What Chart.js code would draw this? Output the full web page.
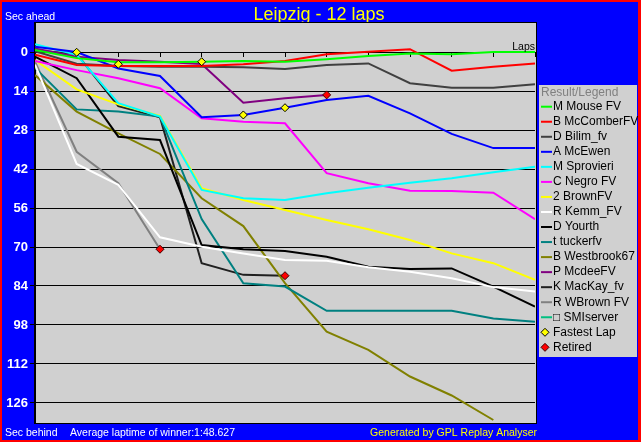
<!DOCTYPE html>
<html>
<head>
<meta charset="utf-8">
<title>Leipzig - 12 laps</title>
<script src="https://cdn.jsdelivr.net/npm/chart.js@4"></script>
<style>
  html, body { margin: 0; padding: 0; background: #0000ff; }
  canvas { display: block; }
</style>
</head>
<body>
<canvas id="lapChart" width="641" height="442"></canvas>
<script>
// data ------------------------------------------------------------
const laps = [0, 1, 2, 3, 4, 5, 6, 7, 8, 9, 10, 11, 12];
const yTicks = [0, 14, 28, 42, 56, 70, 84, 98, 112, 126];

const drivers = [
  'M Mouse FV',
  'B McComberFV',
  'D Bilim_fv',
  'A McEwen',
  'M Sprovieri',
  'C Negro FV',
  '2 BrownFV',
  'R Kemm_FV',
  'D Yourth',
  't tuckerfv',
  'B Westbrook67',
  'P McdeeFV',
  'K MacKay_fv',
  'R WBrown FV',
  '\u25a1 SMIserver'
];

// seconds behind winner's average pace, one value per lap (retired / lapped cars stop early)
const mouseFV     = [-0.7, 2.2, 3.7, 3.7, 3.5, 3.2, 3.5, 2.6, 1.4, 0.5, 0.8, 0.0, 0.0];
const mcComberFV  = [1.0, 4.7, 5.0, 5.0, 5.0, 4.4, 3.2, 0.8, -0.1, -1.0, 6.7, 5.3, 4.1];
const bilimFV     = [-0.3, 4.2, 5.0, 5.3, 5.3, 5.5, 6.1, 4.7, 4.1, 11.2, 12.8, 12.8, 11.6];
const mcEwen      = [-1.9, 0.0, 5.9, 8.6, 23.4, 22.6, 20.0, 17.2, 15.7, 22.0, 29.4, 34.5, 34.5];
const sprovieri   = [-2.8, 1.0, 18.4, 23.2, 49.5, 52.5, 53.1, 50.7, 48.7, 46.9, 45.3, 43.2, 41.2];
const negroFV     = [3.2, 6.5, 9.4, 13.0, 23.8, 25.0, 25.6, 43.5, 47.1, 49.8, 49.9, 50.5, 60.0];
const brownFV     = [2.9, 13.4, 18.8, 22.9, 48.9, 53.1, 56.7, 60.3, 63.6, 67.5, 72.3, 75.8, 81.8];
const kemmFV      = [4.5, 40.2, 47.7, 66.5, 69.9, 72.3, 74.7, 74.9, 77.3, 78.9, 81.2, 84.4, 86.0];
const yourth      = [1.7, 9.4, 30.4, 31.6, 69.3, 70.8, 71.4, 73.5, 77.1, 77.9, 77.7, 84.2, 91.4];
const tuckerFV    = [5.7, 20.6, 21.4, 23.2, 60.0, 83.0, 84.2, 92.9, 92.9, 92.9, 92.9, 95.7, 96.8];
const westbrook67 = [8.3, 21.4, 29.2, 36.6, 52.5, 62.5, 83.0, 100.4, 106.9, 116.5, 123.3, 132.1];
const mcdeeFV     = [-1.3, 1.7, 2.9, 3.5, 4.3, 18.2, 16.6, 15.4];
const macKayFV    = [-0.5, 0.7, 19.4, 23.4, 75.8, 80.0, 80.3];
const wBrownFV    = [3.5, 35.8, 47.1, 70.8];
const smiServer   = [];

const fastestLapLaps = [1, 2, 4, 5, 6];
const fastestLapSecs = [0.1, 4.4, 3.5, 22.6, 20.0];
const retiredLaps = [3, 6, 7];
const retiredSecs = [70.8, 80.3, 15.4];

// styling -----------------------------------------------------------
const FONT = '"Liberation Sans", Arial, sans-serif';
const lineColors = [
  '#00ff00', '#ff0000', '#404040', '#0000ff', '#00ffff',
  '#ff00ff', '#ffff00', '#ffffff', '#000000', '#008080',
  '#808000', '#800080', '#202020', '#808080', '#00c080'
];
const seriesValues = [
  mouseFV, mcComberFV, bilimFV, mcEwen, sprovieri,
  negroFV, brownFV, kemmFV, yourth, tuckerFV,
  westbrook67, mcdeeFV, macKayFV, wBrownFV, smiServer
];

const lineSets = drivers.map(function (name, i) {
  return {
    label: name,
    data: seriesValues[i].map(function (v, j) { return { x: laps[j], y: v }; }),
    borderColor: lineColors[i],
    backgroundColor: lineColors[i],
    borderWidth: 2,
    pointRadius: 0,
    tension: 0,
    order: 0
  };
});

const markerSets = [
  {
    label: 'Fastest Lap',
    data: fastestLapLaps.map(function (l, j) { return { x: l, y: fastestLapSecs[j] }; }),
    showLine: false,
    pointStyle: 'rectRot',
    pointRadius: 4,
    backgroundColor: '#ffff00',
    borderColor: '#000000',
    borderWidth: 1,
    order: -1
  },
  {
    label: 'Retired',
    data: retiredLaps.map(function (l, j) { return { x: l, y: retiredSecs[j] }; }),
    showLine: false,
    pointStyle: 'rectRot',
    pointRadius: 4,
    backgroundColor: '#ff0000',
    borderColor: '#400000',
    borderWidth: 1,
    order: -1
  }
];

// frame, texts and legend box
const replayFrame = {
  id: 'replayFrame',
  beforeDraw: function (chart) {
    const ctx = chart.ctx;
    const a = chart.chartArea;
    ctx.save();
    ctx.fillStyle = '#ff0000';
    ctx.fillRect(0, 0, chart.width, chart.height);
    ctx.fillStyle = '#0000ff';
    ctx.fillRect(2, 2, chart.width - 5, chart.height - 4);

    ctx.textBaseline = 'alphabetic';
    ctx.fillStyle = '#ffff00';
    ctx.font = '18px ' + FONT;
    ctx.textAlign = 'center';
    ctx.fillText('Leipzig - 12 laps', 319, 20);

    ctx.font = '10.5px ' + FONT;
    ctx.textAlign = 'left';
    ctx.fillStyle = '#ffffff';
    ctx.fillText('Sec ahead', 5, 19.5);
    ctx.fillText('Sec behind', 5, 435.5);
    ctx.fillText('Average laptime of winner:1:48.627', 70, 435.5);
    ctx.fillStyle = '#ffff00';
    ctx.textAlign = 'right';
    ctx.fillText('Generated by GPL Replay Analyser', 537, 435.5);

    ctx.fillStyle = '#d0d0d0';
    ctx.fillRect(a.left, a.top, a.right - a.left + 1, a.bottom - a.top);
    ctx.restore();
  },
  afterDraw: function (chart) {
    const ctx = chart.ctx;
    const a = chart.chartArea;
    ctx.save();
    ctx.strokeStyle = '#000000';
    ctx.lineWidth = 1;
    ctx.strokeRect(a.left - 0.5, a.top + 0.5, a.right - a.left + 2, a.bottom - a.top);

    ctx.fillStyle = '#000000';
    ctx.font = '10.5px ' + FONT;
    ctx.textAlign = 'right';
    ctx.textBaseline = 'alphabetic';
    ctx.fillText('Laps', a.right, 50);

    // legend
    ctx.fillStyle = '#d0d0d0';
    ctx.fillRect(539, 85, 98, 272);
    ctx.font = '12px ' + FONT;
    ctx.textAlign = 'left';
    ctx.textBaseline = 'middle';
    ctx.fillStyle = '#808080';
    ctx.fillText('Result/Legend', 541, 92.5);

    chart.data.datasets.forEach(function (ds, i) {
      const y = 106.7 + i * 15.04;
      if (ds.showLine === false) {
        ctx.beginPath();
        ctx.moveTo(545, y - 4);
        ctx.lineTo(549, y);
        ctx.lineTo(545, y + 4);
        ctx.lineTo(541, y);
        ctx.closePath();
        ctx.fillStyle = ds.backgroundColor;
        ctx.fill();
        ctx.strokeStyle = ds.borderColor;
        ctx.stroke();
      } else {
        ctx.strokeStyle = ds.borderColor;
        ctx.lineWidth = 2;
        ctx.beginPath();
        ctx.moveTo(541, y);
        ctx.lineTo(552, y);
        ctx.stroke();
        ctx.lineWidth = 1;
      }
      ctx.fillStyle = '#000000';
      ctx.fillText(ds.label, 553, y);
    });
    ctx.restore();
  }
};

const config = {
  type: 'line',
  data: {
    datasets: lineSets.concat(markerSets)
  },
  options: {
    responsive: false,
    animation: false,
    events: [],
    layout: {
      padding: { left: 0, top: 22, right: 106, bottom: 19 }
    },
    scales: {
      x: {
        type: 'linear',
        min: 0,
        max: 12,
        position: { y: 0 },
        afterBuildTicks: function (s) { s.ticks = laps.map(function (v) { return { value: v }; }); },
        grid: { drawOnChartArea: false, drawTicks: true, tickLength: 4, color: '#000000' },
        border: { display: true, color: '#000000', width: 1 },
        ticks: { display: false }
      },
      y: {
        reverse: true,
        min: -10.77,
        max: 133.18,
        afterBuildTicks: function (s) { s.ticks = yTicks.map(function (v) { return { value: v }; }); },
        afterFit: function (s) { s.width = 35; },
        grid: { color: '#000000', lineWidth: 1, tickLength: 5, drawTicks: true },
        border: { display: true, color: '#000000', width: 1 },
        ticks: {
          color: '#ffffff',
          padding: 2,
          font: { family: FONT, size: 13, weight: 'bold' }
        }
      }
    },
    plugins: {
      legend: { display: false },
      tooltip: { enabled: false },
      title: { display: false }
    }
  },
  plugins: [replayFrame]
};

var lapChart = new Chart(
  document.getElementById('lapChart'),
  config
);
</script>
</body>
</html>
